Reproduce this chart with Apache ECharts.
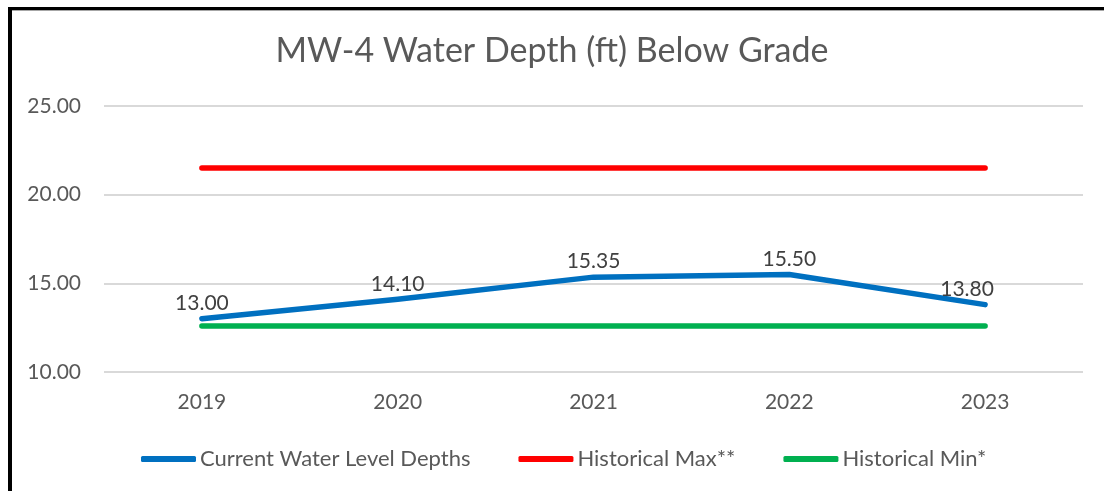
<!DOCTYPE html>
<html>
<head>
<meta charset="utf-8">
<script src="https://cdn.jsdelivr.net/npm/echarts@6/dist/echarts.min.js"></script>
<style>
html,body{margin:0;padding:0;background:#fff;}
#chart{position:absolute;left:0;top:0;width:1104px;height:491px;}
#bl{position:absolute;left:8px;top:7px;width:4px;height:484px;background:#000;}
#bt{position:absolute;left:8px;top:7px;width:1096px;height:3px;background:#000;}
#bt2{position:absolute;left:12px;top:10px;width:1092px;height:1px;background:#a6a6a6;}
</style>
</head>
<body>
<div id="chart"></div>
<div id="bl"></div><div id="bt"></div><div id="bt2"></div>
<script>
const categories = ['2019', '2020', '2021', '2022', '2023'];
const currentDepths = [13.00, 14.10, 15.35, 15.50, 13.80];
const historicalMax = [21.5, 21.5, 21.5, 21.5, 21.5];
const historicalMin = [12.6, 12.6, 12.6, 12.6, 12.6];
const seriesNames = ['Current Water Level Depths', 'Historical Max**', 'Historical Min*'];
const titleText = 'MW-4 Water Depth (ft) Below Grade';

const FONT = 'Lato';
const chart = echarts.init(document.getElementById('chart'), null, {renderer: 'canvas'});
function lineSeries(name, data, color, showLabel) {
  return {
    name: name, type: 'line', data: data, symbol: 'circle', symbolSize: 2, showSymbol: true,
    smooth: false,
    lineStyle: {color: color, width: 5.5, cap: 'round', join: 'round'},
    itemStyle: {color: color},
    label: {show: showLabel, position: 'top', distance: 4, color: '#404040', fontSize: 21, fontFamily: FONT,
      formatter: p => Number(p.value).toFixed(2)},
    emphasis: {disabled: true}, animation: false
  };
}
const currentData = currentDepths.map((v, i) => i === currentDepths.length - 1
  ? {value: v, label: {offset: [-18, 0]}} : v);
chart.setOption({
  backgroundColor: '#fff',
  animation: false,
  title: {text: titleText, left: 'center', top: 29,
    textStyle: {color: '#595959', fontSize: 34, fontWeight: 'normal', fontFamily: FONT}},
  grid: {left: 104, right: 21, top: 106, bottom: 119, containLabel: false},
  xAxis: {type: 'category', data: categories, boundaryGap: true,
    axisLine: {show: false}, axisTick: {show: false},
    axisLabel: {color: '#595959', fontSize: 21, fontFamily: FONT, margin: 20}},
  yAxis: {type: 'value', min: 10, max: 25, interval: 5,
    axisLine: {show: false}, axisTick: {show: false},
    splitLine: {lineStyle: {color: '#d9d9d9', width: 2}},
    axisLabel: {color: '#595959', fontSize: 21, fontFamily: FONT, margin: 23, formatter: v => v.toFixed(2)}},
  legend: {bottom: 16, left: 136, itemWidth: 55, itemHeight: 6, itemGap: 48,
    textStyle: {color: '#595959', fontSize: 22, fontFamily: FONT, padding: [0, 0, 0, -1]},
    data: seriesNames.map((n) => ({name: n, icon: 'roundRect'}))},
  series: [
    lineSeries(seriesNames[0], currentData, '#0070C0', true),
    lineSeries(seriesNames[1], historicalMax, '#FF0000', false),
    lineSeries(seriesNames[2], historicalMin, '#00B050', false)
  ]
});
</script>
</body>
</html>
